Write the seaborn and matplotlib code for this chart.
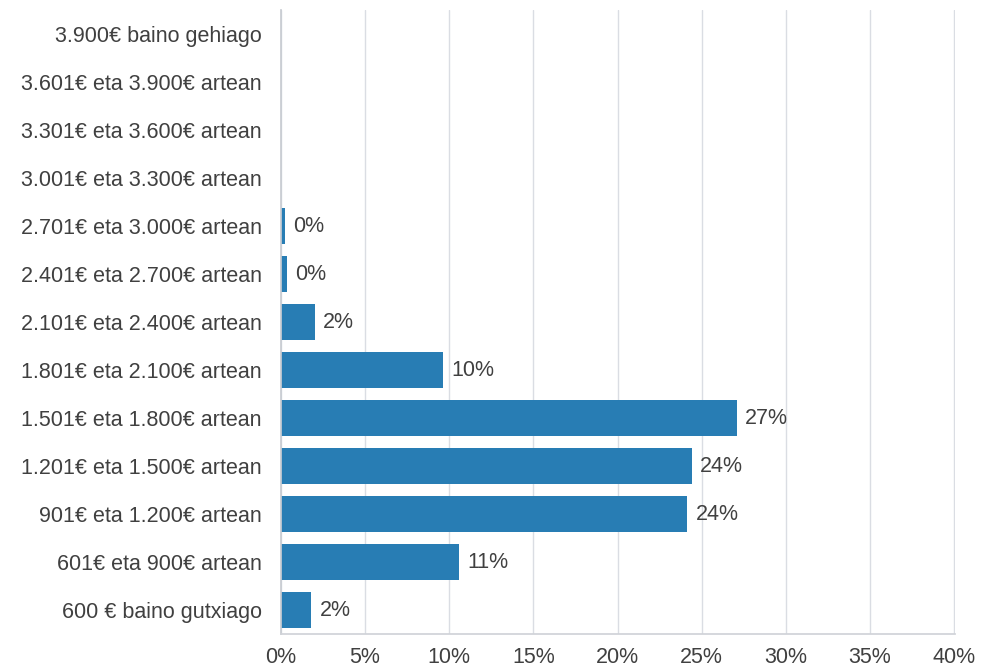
import matplotlib
matplotlib.use("Agg")
import matplotlib.pyplot as plt
import seaborn as sns
import pandas as pd
from matplotlib.ticker import PercentFormatter

# salary bands, top to bottom as shown
categories = [
    "3.900€ baino gehiago",
    "3.601€ eta 3.900€ artean",
    "3.301€ eta 3.600€ artean",
    "3.001€ eta 3.300€ artean",
    "2.701€ eta 3.000€ artean",
    "2.401€ eta 2.700€ artean",
    "2.101€ eta 2.400€ artean",
    "1.801€ eta 2.100€ artean",
    "1.501€ eta 1.800€ artean",
    "1.201€ eta 1.500€ artean",
    "901€ eta 1.200€ artean",
    "601€ eta 900€ artean",
    "600 € baino gutxiago",
]
shares = [0.0, 0.0, 0.0, 0.0, 0.25, 0.35, 2.0, 9.65, 27.1, 24.4, 24.15, 10.6, 1.8]
value_labels = ["", "", "", "", "0%", "0%", "2%", "10%", "27%", "24%", "24%", "11%", "2%"]
x_ticks = [0, 5, 10, 15, 20, 25, 30, 35, 40]

df = pd.DataFrame({"band": categories, "share": shares})

sns.set_theme(style="white")
plt.rcParams["font.family"] = ["Liberation Sans", "DejaVu Sans"]

text_color = "#404040"
fs = 15.5
fig = plt.figure(figsize=(9.81, 6.71), dpi=100)
ax = fig.add_axes([0.2864, 0.0551, 0.687, 0.930])

sns.barplot(data=df, x="share", y="band", orient="h", color="#287db4",
            saturation=1, width=0.75, linewidth=0, ax=ax)

for i, (v, lab) in enumerate(zip(shares, value_labels)):
    if lab:
        ax.annotate(lab, (v, i), xytext=(6, 0), textcoords="offset points",
                    va="center", ha="left", fontsize=fs, color=text_color)

ax.set_xlim(0, 40.05)
ax.set_xticks(x_ticks)
ax.xaxis.set_major_formatter(PercentFormatter(decimals=0))
ax.set_xlabel("")
ax.set_ylabel("")
ax.grid(axis="x", color="#dadde3", linewidth=1)
ax.set_axisbelow(True)
for s in ["top", "right"]:
    ax.spines[s].set_visible(False)
ax.spines["left"].set_color("#c8ccd2")
ax.spines["bottom"].set_color("#d0d3d8")
ax.tick_params(axis="both", length=0, labelsize=fs, labelcolor=text_color)
ax.tick_params(axis="y", pad=14)
ax.tick_params(axis="x", pad=9)

fig.savefig("out.png", dpi=100)
